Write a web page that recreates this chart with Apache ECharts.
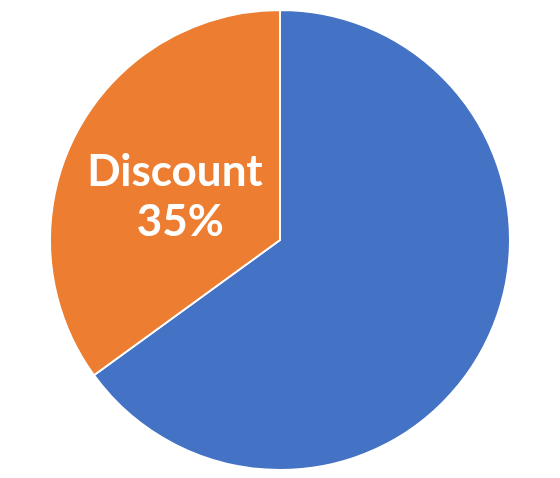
<!DOCTYPE html>
<html lang="en">
<head>
    <meta charset="UTF-8">
    <script type="text/javascript" src="https://cdn.jsdelivr.net/npm/echarts@6/dist/echarts.min.js"></script>
    <style>
        html, body { margin: 0; padding: 0; background: #fff; }
        #pie { width: 560px; height: 478px; }
    </style>
</head>
<body>
    <div id="pie"></div>
</body>
<script>
    // slice names, shares (%) and colours
    var names = ['Full price', 'Discount'];
    var shares = [65, 35];
    var colors = ['#4472C4', '#ED7D31'];
    var showLabel = [false, true];

    var data = [];
    for (var i = 0; i < names.length; i++) {
        data.push({
            name: names[i],
            value: shares[i],
            itemStyle: { color: colors[i] },
            label: { show: showLabel[i] }
        });
    }

    var chart = echarts.init(document.getElementById('pie'));
    chart.setOption({
        animation: false,
        series: [{
            type: 'pie',
            center: [280, 240],
            radius: [0, 230],
            startAngle: 90,
            clockwise: true,
            data: data,
            itemStyle: {
                borderColor: '#fff',
                borderWidth: 2
            },
            label: {
                position: 'inner',
                // small empty first line nudges the text block down a little
                formatter: '{gap| }\n{t|{b}}\n{t| {d}%}',
                rich: {
                    gap: { fontSize: 10, lineHeight: 20 },
                    t: {
                        color: '#fff',
                        fontFamily: 'Lato',
                        fontWeight: 'bold',
                        fontSize: 44,
                        lineHeight: 50
                    }
                }
            },
            labelLine: { show: false }
        }]
    });
</script>
</html>
